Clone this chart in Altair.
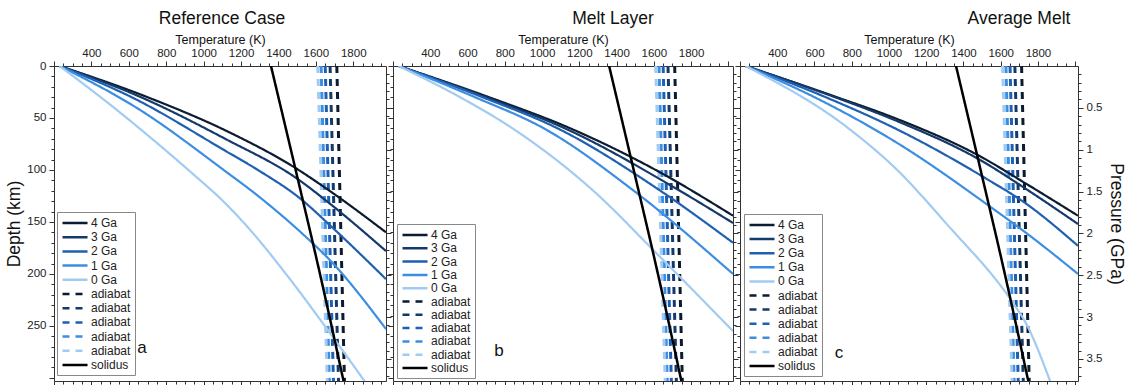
import altair as alt
import pandas as pd

FONT = "Liberation Sans"

# ---------------- data (depth km, temperature K) ----------------
AGES = ["4 Ga", "3 Ga", "2 Ga", "1 Ga", "0 Ga"]
ADIABATS = ["adiabat 4", "adiabat 3", "adiabat 2", "adiabat 1", "adiabat 0"]
SERIES = AGES + ADIABATS + ["solidus"]
COLORS = ["#0b1b30", "#143a6c", "#1f60b2", "#3c8ee2", "#a2cbf2"]

# Reference Case
ref_4ga = [(0, 230), (30, 700), (64, 1140), (98, 1490), (119, 1665), (160, 1975)]
ref_3ga = [(0, 230), (30, 665), (70, 1115), (109, 1505), (131, 1665), (178, 1975)]
ref_2ga = [(0, 230), (30, 615), (82, 1120), (100, 1290), (128, 1520), (154, 1680), (205, 1975)]
ref_1ga = [(0, 230), (40, 640), (102, 1122), (122, 1270), (170, 1580), (183, 1655), (253, 1975)]
ref_0ga = [(0, 230), (40, 520), (74, 750), (105, 950), (131, 1110), (160, 1260), (200, 1440),
           (258, 1680), (303, 1860)]

# Melt Layer
mel_4ga = [(0, 230), (30, 715), (61, 1165), (100, 1610), (144, 2025)]
mel_3ga = [(0, 230), (30, 700), (61, 1135), (119, 1730), (151, 2025)]
mel_2ga = [(0, 230), (30, 680), (61, 1095), (119, 1627), (170, 2025)]
mel_1ga = [(0, 230), (30, 640), (61, 1020), (119, 1485), (200, 2025)]
mel_0ga = [(0, 230), (30, 560), (61, 850), (119, 1269), (181, 1619), (255, 2025)]

# Average Melt
avg_4ga = [(0, 230), (30, 720), (51, 1044), (88, 1501), (112, 1725), (144, 2015)]
avg_3ga = [(0, 230), (30, 710), (53, 1044), (92, 1505), (117, 1725), (152, 2015)]
avg_2ga = [(0, 230), (30, 660), (61, 1044), (109, 1528), (131, 1725), (173, 2015)]
avg_1ga = [(0, 230), (30, 600), (74, 1044), (138, 1564), (159, 1725), (200, 2015)]
avg_0ga = [(0, 230), (61, 790), (100, 1044), (150, 1300), (231, 1678), (244, 1725), (304, 1867)]

solidus = [(0, 1360), (100, 1492), (200, 1622), (303, 1748)]

ADIABAT_DEPTHS = [0, 303]
ADIABAT_TOP_T = [1712, 1676, 1650, 1628, 1610]
ADIABAT_BOTTOM_T = [1753, 1721, 1694, 1672, 1661]

X_TICKS = list(range(200, 2001, 50))
Y_TICKS = list(range(0, 301, 10))
P_TICKS = [round(0.1 * i, 1) for i in range(1, 38)]
KM_PER_GPA = 80.5
DEPTH_MAX = 303


def curves_df(curves):
    rows = []
    for name, pts in zip(AGES, curves):
        for d, t in pts:
            rows.append({"series": name, "depth": d, "T": t})
    return pd.DataFrame(rows)


def adiabat_df():
    rows = []
    for name, t0, t1 in zip(ADIABATS, ADIABAT_TOP_T, ADIABAT_BOTTOM_T):
        rows.append({"series": name, "depth": ADIABAT_DEPTHS[0], "T": t0})
        rows.append({"series": name, "depth": ADIABAT_DEPTHS[1], "T": t1})
    return pd.DataFrame(rows)


def solidus_df():
    return pd.DataFrame([{"series": "solidus", "depth": d, "T": t} for d, t in solidus])


color_scale = alt.Scale(domain=SERIES, range=COLORS + COLORS + ["#000000"])
dash_scale = alt.Scale(domain=SERIES, range=[[1, 0]] * 5 + [[7, 6]] * 5 + [[1, 0]])

major_x = "datum.value % 200 == 0"
major_y = "datum.value % 50 == 0"
major_p = f"round(datum.value / {KM_PER_GPA} * 10) % 5 == 0"


def panel(curves, xmax, width, title, title_dx, lx, ly, row_pad, letter, letter_x, letter_y,
          left_labels, right_labels):
    xs = [v for v in X_TICKS if v <= xmax]
    xscale = alt.Scale(domain=[200, xmax], nice=False, zero=False)
    yscale = alt.Scale(domain=[0, DEPTH_MAX], nice=False, zero=False, reverse=True)
    legend = alt.Legend(
        orient="none", legendX=lx, legendY=ly, title=None,
        symbolType="M-1,0H3.55", symbolSize=121, symbolStrokeWidth=2.5,
        labelFontSize=12, labelColor="#222", labelFont=FONT, rowPadding=row_pad,
        padding=4, strokeColor="#888", fillColor="white",
        labelExpr="slice(datum.label, 0, 7)", labelOffset=16,
        cornerRadius=0, labelLimit=90,
    )
    color = alt.Color("series:N", scale=color_scale, legend=legend)
    dash = alt.StrokeDash("series:N", scale=dash_scale, legend=legend)

    x_top = alt.Axis(
        orient="top", values=xs, format="d",
        labelExpr="(datum.value % 200 == 0 && datum.value >= 400 && datum.value <= 1800) ? datum.label : ''",
        tickSize={"condition": {"test": major_x, "value": 5}, "value": 3},
        title="Temperature (K)", titleFontSize=12.5, titlePadding=1, labelPadding=3,
        labelFlush=False, labelOverlap=False, grid=False,
    )
    x_bottom = alt.Axis(
        orient="bottom", values=xs, labels=False, title=None, grid=False,
        tickSize={"condition": {"test": major_x, "value": 5}, "value": 3},
    )
    y_left = alt.Axis(
        orient="left", values=Y_TICKS, format="d", labels=left_labels,
        labelExpr="(datum.value % 50 == 0 && datum.value <= 250) ? datum.label : ''",
        tickSize={"condition": {"test": major_y, "value": 5}, "value": 3},
        title="Depth (km)" if left_labels else None, titleFontSize=17.5, titlePadding=3,
        labelPadding=3, labelOverlap=False, labelFlush=False, grid=False,
    )
    p_vals = [round(p * KM_PER_GPA, 3) for p in P_TICKS if p * KM_PER_GPA <= DEPTH_MAX]
    y_right = alt.Axis(
        orient="right", values=p_vals, labels=right_labels,
        labelExpr=f"{major_p} ? format(round(datum.value / {KM_PER_GPA} * 10) / 10, '~g') : ''",
        tickSize={"condition": {"test": major_p, "value": 5}, "value": 3},
        title="Pressure (GPa)" if right_labels else None, titleFontSize=17.5, titlePadding=5,
        labelPadding=3, labelOverlap=False, labelFlush=False, grid=False,
    )

    geo = alt.Chart(curves_df(curves)).mark_line(
        strokeWidth=2.2, clip=True, interpolate="monotone"
    ).encode(
        x=alt.X("T:Q", scale=xscale, axis=x_top),
        y=alt.Y("depth:Q", scale=yscale, axis=y_left),
        color=color, strokeDash=dash, order="depth:Q",
    )
    adi = alt.Chart(adiabat_df()).mark_line(strokeWidth=3, clip=True).encode(
        x=alt.X("T:Q", scale=xscale, axis=None),
        y=alt.Y("depth:Q", scale=yscale, axis=None),
        color=color, strokeDash=dash, order="depth:Q",
    )
    sol = alt.Chart(solidus_df()).mark_line(
        strokeWidth=2.5, clip=True, interpolate="monotone"
    ).encode(
        x=alt.X("T:Q", scale=xscale, axis=x_bottom),
        y=alt.Y("depth:Q", scale=yscale, axis=y_right),
        color=color, strokeDash=dash, order="depth:Q",
    )
    txt = alt.Chart(pd.DataFrame({"t": [letter]})).mark_text(
        fontSize=17, font=FONT, color="#111", align="center", baseline="middle"
    ).encode(x=alt.value(letter_x), y=alt.value(letter_y), text="t:N")

    return alt.layer(adi, geo, sol, txt).resolve_axis(
        x="independent", y="independent"
    ).properties(
        width=width, height=315,
        title=alt.TitleParams(title, dx=title_dx, fontSize=17.5, fontWeight="normal",
                              font=FONT, offset=6, anchor="middle", color="#111"),
    )


pa = panel([ref_4ga, ref_3ga, ref_2ga, ref_1ga, ref_0ga], 1975, 332, "Reference Case", 2,
           3, 146, 1.2, "a", 88, 282, True, False)
pb = panel([mel_4ga, mel_3ga, mel_2ga, mel_1ga, mel_0ga], 2025, 340, "Melt Layer", 50,
           4, 158, 0.3, "b", 106, 285, False, False)
pc = panel([avg_4ga, avg_3ga, avg_2ga, avg_1ga, avg_0ga], 2015, 338, "Average Melt", 110,
           4, 148, 1.1, "c", 99, 287, False, True)

chart = alt.hconcat(pa, pb, pc, spacing=7, bounds="flush").resolve_scale(
    color="independent", strokeDash="independent"
).properties(
    padding={"left": 5, "top": 9, "right": 4, "bottom": 0}
).configure(font=FONT).configure_view(stroke=None).configure_axis(
    labelFont=FONT, titleFont=FONT, labelFontSize=11.5, labelColor="#222",
    titleFontWeight="normal", titleColor="#111", domainColor="#333", tickColor="#333",
    domainWidth=1, tickWidth=1,
)

chart.save("out.html", embed_options={"renderer": "svg", "actions": False})
